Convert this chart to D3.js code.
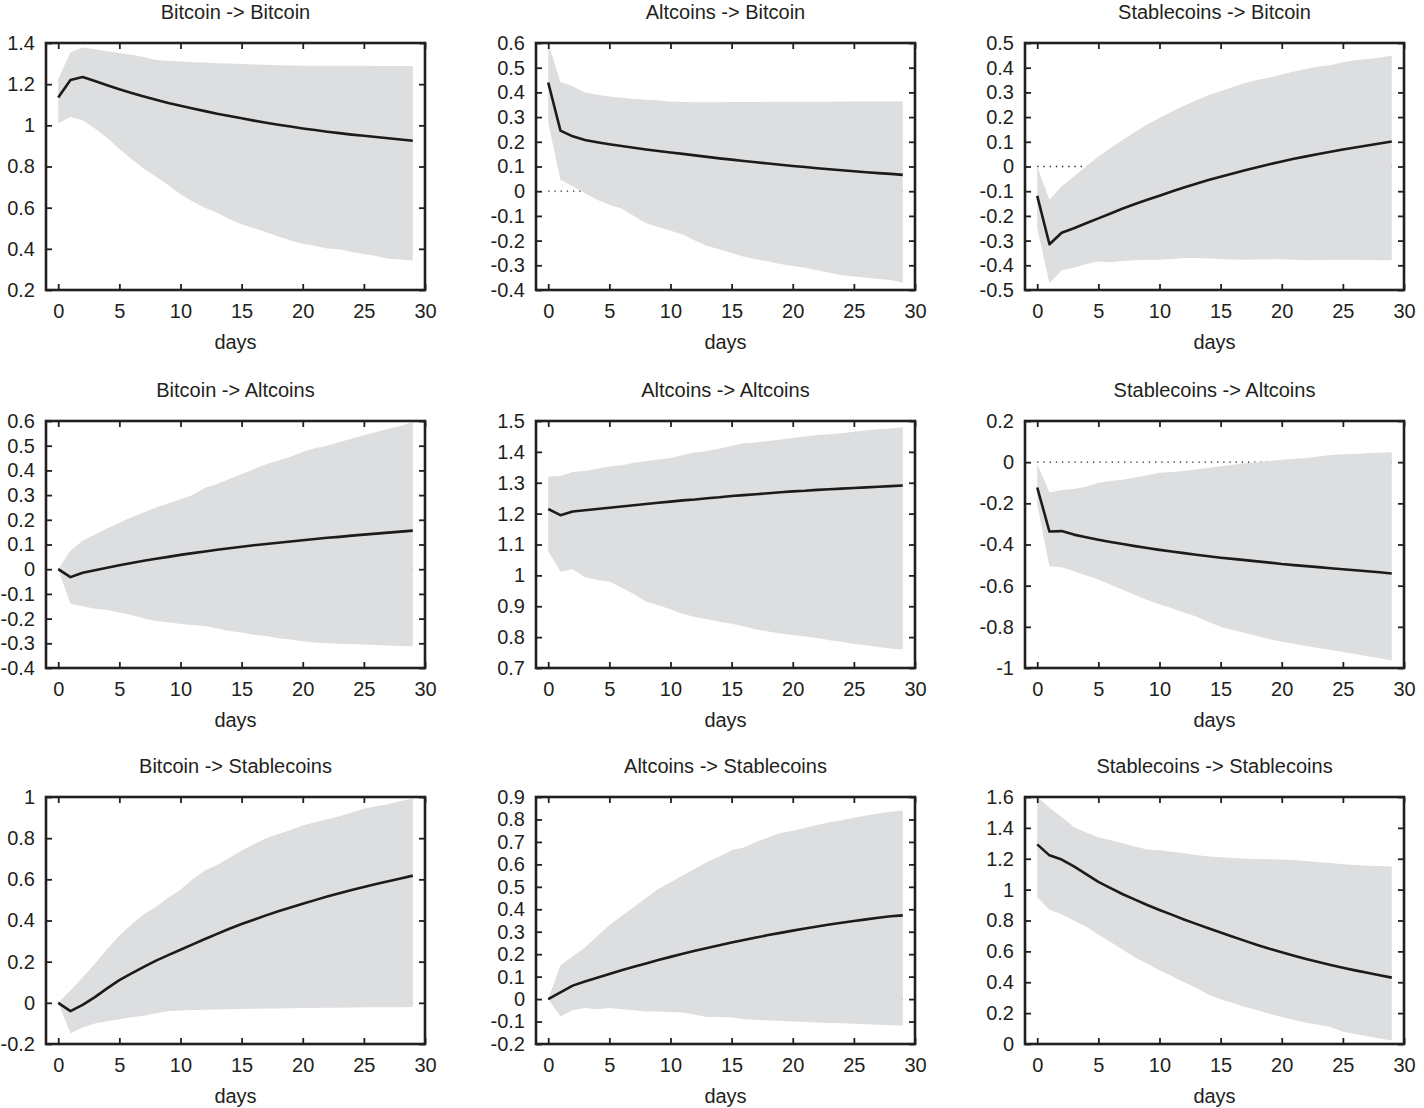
<!DOCTYPE html>
<html>
<head>
<meta charset="utf-8">
<script src="https://cdn.jsdelivr.net/npm/d3@7"></script>
<style>
  body { margin: 0; background: #fff; }
  text { font-family: "Liberation Sans", Arial, Helvetica, sans-serif; fill: #231f20; }
</style>
</head>
<body>
<svg id="irf-grid" width="1424" height="1108"></svg>
<script>
// days 0..29 of the impulse responses
const days = d3.range(0, 30);

const titles = [
  "Bitcoin -> Bitcoin", "Altcoins -> Bitcoin", "Stablecoins -> Bitcoin",
  "Bitcoin -> Altcoins", "Altcoins -> Altcoins", "Stablecoins -> Altcoins",
  "Bitcoin -> Stablecoins", "Altcoins -> Stablecoins", "Stablecoins -> Stablecoins"
];
const yDomains = [[0.2, 1.4], [-0.4, 0.6], [-0.5, 0.5], [-0.4, 0.6], [0.7, 1.5], [-1, 0.2], [-0.2, 1], [-0.2, 0.9], [0, 1.6]];
const yTickSteps = [0.2, 0.1, 0.1, 0.1, 0.1, 0.2, 0.2, 0.1, 0.2];
const xTicks = [0, 5, 10, 15, 20, 25, 30];
const xLabel = "days";

// Bitcoin -> Bitcoin
const btcBtcMid = [1.135, 1.22, 1.235, 1.215, 1.195, 1.175, 1.157, 1.14, 1.124, 1.108, 1.095, 1.082, 1.069, 1.056, 1.045, 1.034, 1.023, 1.013, 1.003, 0.994, 0.985, 0.977, 0.969, 0.962, 0.955, 0.949, 0.943, 0.937, 0.931, 0.925];
const btcBtcLo = [1.01, 1.04, 1.025, 0.985, 0.94, 0.885, 0.835, 0.79, 0.75, 0.71, 0.665, 0.63, 0.6, 0.575, 0.545, 0.52, 0.5, 0.48, 0.46, 0.44, 0.425, 0.415, 0.402, 0.398, 0.385, 0.375, 0.365, 0.352, 0.348, 0.343];
const btcBtcHi = [1.225, 1.355, 1.378, 1.37, 1.36, 1.352, 1.343, 1.332, 1.318, 1.314, 1.31, 1.307, 1.305, 1.302, 1.3, 1.298, 1.296, 1.294, 1.292, 1.291, 1.29, 1.29, 1.29, 1.289, 1.289, 1.289, 1.288, 1.288, 1.288, 1.288];

// Altcoins -> Bitcoin
const altBtcMid = [0.44, 0.245, 0.222, 0.207, 0.198, 0.19, 0.183, 0.176, 0.169, 0.163, 0.157, 0.151, 0.145, 0.139, 0.133, 0.128, 0.122, 0.117, 0.112, 0.107, 0.102, 0.098, 0.093, 0.089, 0.085, 0.081, 0.077, 0.073, 0.07, 0.066];
const altBtcLo = [0.278, 0.046, 0.02, -0.008, -0.035, -0.055, -0.07, -0.1, -0.13, -0.145, -0.16, -0.175, -0.2, -0.222, -0.235, -0.25, -0.265, -0.275, -0.285, -0.295, -0.303, -0.31, -0.32, -0.33, -0.34, -0.345, -0.35, -0.355, -0.36, -0.37];
const altBtcHi = [0.6, 0.442, 0.425, 0.4, 0.39, 0.383, 0.378, 0.373, 0.37, 0.367, 0.363, 0.361, 0.36, 0.36, 0.36, 0.361, 0.361, 0.361, 0.362, 0.362, 0.362, 0.362, 0.362, 0.362, 0.363, 0.363, 0.363, 0.363, 0.363, 0.363];

// Stablecoins -> Bitcoin
const stbBtcMid = [-0.119, -0.315, -0.268, -0.25, -0.23, -0.21, -0.19, -0.17, -0.152, -0.135, -0.118, -0.101, -0.085, -0.07, -0.055, -0.041, -0.028, -0.015, -0.003, 0.009, 0.02, 0.031, 0.041, 0.051, 0.06, 0.069, 0.077, 0.085, 0.093, 0.101];
const stbBtcLo = [-0.25, -0.473, -0.42, -0.41, -0.395, -0.385, -0.388, -0.383, -0.38, -0.378, -0.378, -0.374, -0.37, -0.37, -0.372, -0.374, -0.377, -0.378, -0.377, -0.376, -0.376, -0.378, -0.38, -0.379, -0.378, -0.378, -0.378, -0.379, -0.38, -0.38];
const stbBtcHi = [0.0, -0.135, -0.08, -0.04, 0.0, 0.04, 0.075, 0.108, 0.14, 0.17, 0.196, 0.222, 0.246, 0.268, 0.288, 0.305, 0.322, 0.338, 0.35, 0.36, 0.372, 0.385, 0.395, 0.405, 0.41, 0.422, 0.43, 0.435, 0.44, 0.449];

// Bitcoin -> Altcoins
const btcAltMid = [0.0, -0.032, -0.014, -0.004, 0.006, 0.016, 0.025, 0.034, 0.042, 0.05, 0.058, 0.065, 0.072, 0.079, 0.085, 0.091, 0.097, 0.102, 0.107, 0.112, 0.117, 0.122, 0.127, 0.131, 0.136, 0.14, 0.144, 0.148, 0.152, 0.156];
const btcAltLo = [0.0, -0.14, -0.15, -0.16, -0.165, -0.175, -0.185, -0.2, -0.21, -0.215, -0.222, -0.226, -0.23, -0.24, -0.25, -0.256, -0.265, -0.27, -0.28, -0.285, -0.292, -0.297, -0.3, -0.302, -0.303, -0.305, -0.307, -0.309, -0.311, -0.312];
const btcAltHi = [0.0, 0.076, 0.115, 0.14, 0.165, 0.188, 0.21, 0.23, 0.25, 0.266, 0.283, 0.3, 0.33, 0.345, 0.365, 0.385, 0.405, 0.425, 0.44, 0.455, 0.474, 0.49, 0.5, 0.515, 0.528, 0.542, 0.555, 0.569, 0.58, 0.596];

// Altcoins -> Altcoins
const altAltMid = [1.215, 1.195, 1.207, 1.211, 1.215, 1.219, 1.223, 1.227, 1.231, 1.235, 1.239, 1.243, 1.246, 1.25, 1.253, 1.257, 1.26, 1.263, 1.266, 1.269, 1.272, 1.274, 1.277, 1.279, 1.281, 1.283, 1.285, 1.287, 1.289, 1.291];
const altAltLo = [1.078, 1.012, 1.02, 0.995, 0.985, 0.98, 0.96, 0.94, 0.915, 0.903, 0.89, 0.875, 0.865, 0.858, 0.85, 0.843, 0.835, 0.825, 0.818, 0.812, 0.807, 0.802, 0.797, 0.79, 0.785, 0.778, 0.774, 0.768, 0.763, 0.76];
const altAltHi = [1.32, 1.322, 1.335, 1.338, 1.345, 1.353, 1.357, 1.365, 1.37, 1.375, 1.38, 1.39, 1.398, 1.403, 1.41, 1.42, 1.428, 1.43, 1.435, 1.44, 1.445, 1.45, 1.455, 1.457, 1.46, 1.465, 1.47, 1.473, 1.476, 1.48];

// Stablecoins -> Altcoins
const stbAltMid = [-0.123, -0.337, -0.335, -0.352, -0.365, -0.377, -0.388, -0.398, -0.408, -0.417, -0.426, -0.434, -0.442, -0.45, -0.457, -0.464, -0.47, -0.476, -0.482, -0.488, -0.495, -0.5, -0.505, -0.51, -0.515, -0.52, -0.525, -0.53, -0.535, -0.541];
const stbAltLo = [-0.205, -0.506, -0.51, -0.53, -0.55, -0.57, -0.595, -0.62, -0.645, -0.67, -0.69, -0.71, -0.73, -0.75, -0.775, -0.8, -0.815, -0.83, -0.845, -0.86, -0.872, -0.882, -0.893, -0.903, -0.912, -0.922, -0.932, -0.943, -0.953, -0.963];
const stbAltHi = [-0.009, -0.147, -0.135, -0.13, -0.12, -0.1, -0.092, -0.085, -0.075, -0.063, -0.052, -0.048, -0.043, -0.035, -0.028, -0.02, -0.012, -0.005, 0.0, 0.005, 0.012, 0.017, 0.02, 0.027, 0.035, 0.038, 0.04, 0.044, 0.046, 0.048];

// Bitcoin -> Stablecoins
const btcStbMid = [0.0, -0.04, -0.01, 0.028, 0.07, 0.11, 0.143, 0.175, 0.205, 0.232, 0.258, 0.284, 0.31, 0.335, 0.36, 0.383, 0.404, 0.425, 0.445, 0.463, 0.481, 0.499, 0.516, 0.532, 0.548, 0.563, 0.577, 0.591, 0.604, 0.618];
const btcStbLo = [0.0, -0.148, -0.12, -0.1, -0.09, -0.08, -0.07, -0.063, -0.05, -0.04, -0.037, -0.035, -0.033, -0.032, -0.031, -0.03, -0.029, -0.028, -0.027, -0.026, -0.025, -0.025, -0.024, -0.024, -0.023, -0.022, -0.022, -0.021, -0.021, -0.02];
const btcStbHi = [0.0, 0.06, 0.124, 0.19, 0.26, 0.327, 0.38, 0.43, 0.465, 0.51, 0.55, 0.6, 0.643, 0.67, 0.705, 0.74, 0.77, 0.8, 0.82, 0.84, 0.862, 0.877, 0.892, 0.907, 0.925, 0.943, 0.955, 0.965, 0.98, 0.992];

// Altcoins -> Stablecoins
const altStbMid = [0.0, 0.03, 0.06, 0.078, 0.095, 0.112, 0.128, 0.144, 0.159, 0.174, 0.188, 0.202, 0.215, 0.228, 0.24, 0.252, 0.263, 0.274, 0.285, 0.295, 0.305, 0.314, 0.323, 0.332, 0.34, 0.348, 0.355, 0.362, 0.369, 0.373];
const altStbLo = [0.0, -0.078, -0.05, -0.04, -0.045, -0.04, -0.045, -0.05, -0.055, -0.055, -0.057, -0.06, -0.07, -0.08, -0.08, -0.082, -0.09, -0.092, -0.095, -0.097, -0.1, -0.102, -0.104, -0.106, -0.108, -0.11, -0.112, -0.114, -0.116, -0.118];
const altStbHi = [0.0, 0.15, 0.19, 0.23, 0.28, 0.33, 0.37, 0.41, 0.45, 0.49, 0.52, 0.55, 0.58, 0.61, 0.635, 0.663, 0.675, 0.7, 0.72, 0.74, 0.75, 0.762, 0.775, 0.787, 0.797, 0.808, 0.818, 0.826, 0.834, 0.84];

// Stablecoins -> Stablecoins
const stbStbMid = [1.293, 1.222, 1.195, 1.15, 1.1, 1.05, 1.01, 0.97, 0.935, 0.9, 0.868, 0.838, 0.807, 0.778, 0.75, 0.722, 0.695, 0.668, 0.642, 0.617, 0.594, 0.572, 0.551, 0.531, 0.512, 0.494, 0.477, 0.461, 0.445, 0.43];
const stbStbLo = [0.951, 0.87, 0.84, 0.8, 0.76, 0.71, 0.66, 0.61, 0.56, 0.52, 0.478, 0.44, 0.4, 0.365, 0.32, 0.29, 0.265, 0.24, 0.22, 0.195, 0.175, 0.155, 0.138, 0.125, 0.11, 0.08, 0.065, 0.05, 0.035, 0.022];
const stbStbHi = [1.6, 1.53, 1.47, 1.405, 1.37, 1.34, 1.32, 1.3, 1.28, 1.26, 1.255, 1.245, 1.235, 1.225, 1.215, 1.21, 1.205, 1.2, 1.198, 1.196, 1.195, 1.19, 1.185, 1.178, 1.172, 1.165, 1.16, 1.155, 1.153, 1.15];

const mids = [btcBtcMid, altBtcMid, stbBtcMid, btcAltMid, altAltMid, stbAltMid, btcStbMid, altStbMid, stbStbMid];
const lows = [btcBtcLo, altBtcLo, stbBtcLo, btcAltLo, altAltLo, stbAltLo, btcStbLo, altStbLo, stbStbLo];
const highs = [btcBtcHi, altBtcHi, stbBtcHi, btcAltHi, altAltHi, stbAltHi, btcStbHi, altStbHi, stbStbHi];

// layout of the 3x3 grid
const colLeft = [46, 536, 1025];
const rowTop = [43, 421, 797];
const plotW = 379;
const plotH = 247;

const svg = d3.select("#irf-grid");

// tick label like gnuplot: plain hyphen, no trailing zeros
function fmt(v) {
  const r = Math.round(v * 100) / 100;
  return (Math.abs(r) < 1e-9 ? 0 : r).toString();
}

function drawPanel(i) {
  const left = colLeft[i % 3];
  const top = rowTop[Math.floor(i / 3)];

  const xScale = d3.scaleLinear().domain([-1, 30]).range([0, plotW]);
  const yScale = d3.scaleLinear().domain(yDomains[i]).range([plotH, 0]);
  const yTicks = d3.range(yDomains[i][0], yDomains[i][1] + yTickSteps[i] / 2, yTickSteps[i]);

  const g = svg.append("g").attr("transform", "translate(" + left + "," + top + ")");

  // zero reference line (dotted), sits under the band
  if (yDomains[i][0] < 0 && yDomains[i][1] > 0) {
    g.append("line")
      .attr("x1", xScale(0)).attr("x2", xScale(29))
      .attr("y1", yScale(0)).attr("y2", yScale(0))
      .attr("stroke", "#231f20")
      .attr("stroke-width", 1.3)
      .attr("stroke-dasharray", "1.3,4.9");
  }

  const data = days.map(function(d, k) { return {d: d, m: mids[i][k], lo: lows[i][k], hi: highs[i][k]}; });

  // confidence band
  g.append("path")
    .datum(data)
    .attr("fill", "#dddee0")
    .attr("d", d3.area()
      .x(function(d) { return xScale(d.d); })
      .y0(function(d) { return yScale(d.lo); })
      .y1(function(d) { return yScale(d.hi); }));

  // response line
  g.append("path")
    .datum(data)
    .attr("fill", "none")
    .attr("stroke", "#1c1a1b")
    .attr("stroke-width", 2.6)
    .attr("stroke-linejoin", "round")
    .attr("d", d3.line()
      .x(function(d) { return xScale(d.d); })
      .y(function(d) { return yScale(d.m); }));

  // axes, ticks pointing inward on all four sides
  const xAxis = d3.axisBottom(xScale).tickValues(xTicks).tickSize(-6).tickPadding(14).tickFormat(fmt);
  const xAxisTop = d3.axisTop(xScale).tickValues(xTicks).tickSize(-6).tickFormat("");
  const yAxis = d3.axisLeft(yScale).tickValues(yTicks).tickSize(-6).tickPadding(11).tickFormat(fmt);
  const yAxisRight = d3.axisRight(yScale).tickValues(yTicks).tickSize(-6).tickFormat("");

  const axes = [
    g.append("g").attr("transform", "translate(0," + plotH + ")").call(xAxis),
    g.append("g").call(xAxisTop),
    g.append("g").call(yAxis),
    g.append("g").attr("transform", "translate(" + plotW + ",0)").call(yAxisRight)
  ];
  axes.forEach(function(a) {
    a.select(".domain").remove();
    a.selectAll(".tick line").attr("stroke", "#231f20").attr("stroke-width", 1.8);
    a.selectAll("text").attr("font-size", 20).attr("fill", "#231f20")
      .style("font-family", "'Liberation Sans', Arial, sans-serif");
  });

  // frame
  g.append("rect")
    .attr("width", plotW).attr("height", plotH)
    .attr("fill", "none")
    .attr("stroke", "#231f20")
    .attr("stroke-width", 2.6);

  // title and x label
  g.append("text")
    .attr("x", plotW / 2).attr("y", -24)
    .attr("text-anchor", "middle")
    .attr("font-size", 20)
    .text(titles[i]);

  g.append("text")
    .attr("x", plotW / 2).attr("y", plotH + 59)
    .attr("text-anchor", "middle")
    .attr("font-size", 20)
    .text(xLabel);
}

for (let i = 0; i < 9; i++) drawPanel(i);
</script>
</body>
</html>
